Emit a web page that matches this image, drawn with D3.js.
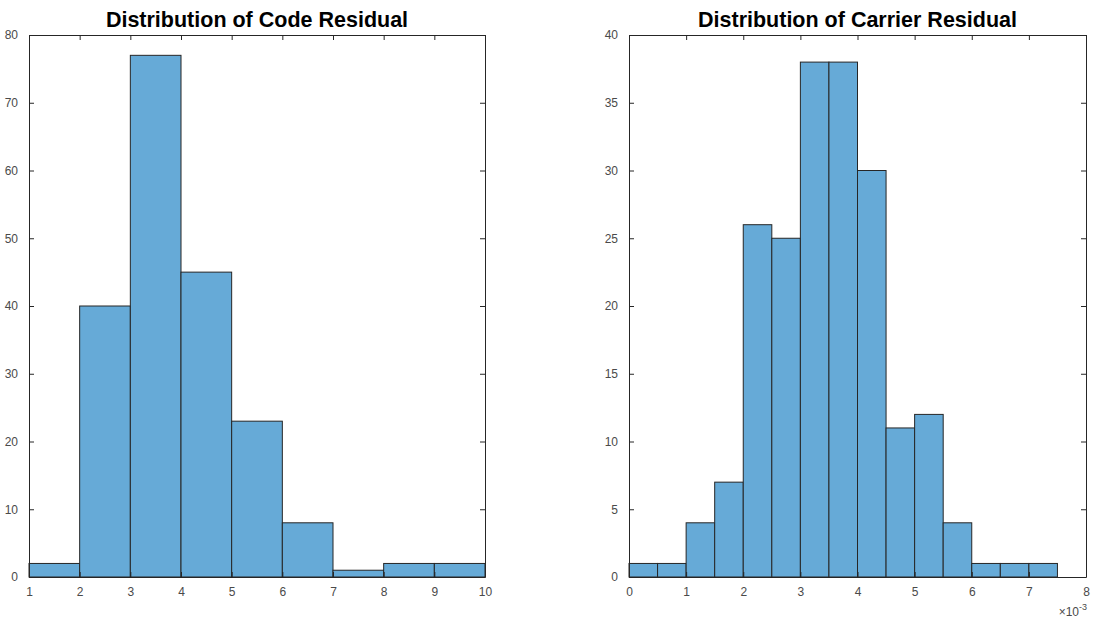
<!DOCTYPE html>
<html>
<head>
<meta charset="utf-8">
<script src="https://cdn.jsdelivr.net/npm/d3@7"></script>
<style>
  body { margin: 0; background: #fff; }
  svg { display: block; font-family: "Liberation Sans", Arial, sans-serif; }
  .tick text { fill: #4a4a4a; font-size: 12px; }
  .title { font-weight: bold; font-size: 21.5px; fill: #000; }
</style>
</head>
<body>
<svg width="1094" height="620"></svg>
<script>
// Code residual histogram
const codeEdges = [1, 2, 3, 4, 5, 6, 7, 8, 9, 10];
const codeCounts = [2, 40, 77, 45, 23, 8, 1, 2, 2];
const codeXTicks = [1, 2, 3, 4, 5, 6, 7, 8, 9, 10];
const codeYTicks = [0, 10, 20, 30, 40, 50, 60, 70, 80];

// Carrier residual histogram (x in units of 1e-3)
const carrierEdges = [0, 0.5, 1, 1.5, 2, 2.5, 3, 3.5, 4, 4.5, 5, 5.5, 6, 6.5, 7, 7.5];
const carrierCounts = [1, 1, 4, 7, 26, 25, 38, 38, 30, 11, 12, 4, 1, 1, 1];
const carrierXTicks = [0, 1, 2, 3, 4, 5, 6, 7, 8];
const carrierYTicks = [0, 5, 10, 15, 20, 25, 30, 35, 40];

const svg = d3.select("svg");
const axisColor = "#262626";
const tickLen = 5;

function drawHist(opts) {
  const { left, right, top, bottom, edges, counts, xDomain, yDomain, xTicks, yTicks, title } = opts;
  const x = d3.scaleLinear().domain(xDomain).range([left, right]);
  const y = d3.scaleLinear().domain(yDomain).range([bottom, top]);
  const g = svg.append("g");

  // bars
  g.append("g")
    .selectAll("rect")
    .data(counts)
    .enter()
    .append("rect")
    .attr("x", (d, i) => x(edges[i]))
    .attr("y", (d) => y(d))
    .attr("width", (d, i) => x(edges[i + 1]) - x(edges[i]))
    .attr("height", (d) => y(0) - y(d))
    .attr("fill", "rgb(102,170,215)")
    .attr("stroke", axisColor)
    .attr("stroke-width", 1);

  // axes with inward ticks on all sides (box on)
  const bottomAxis = d3.axisBottom(x).tickValues(xTicks).tickSizeInner(-tickLen).tickSizeOuter(0).tickPadding(10).tickFormat(d3.format("d"));
  const topAxis = d3.axisTop(x).tickValues(xTicks).tickSizeInner(-tickLen).tickSizeOuter(0).tickFormat("");
  const leftAxis = d3.axisLeft(y).tickValues(yTicks).tickSizeInner(-tickLen).tickSizeOuter(0).tickPadding(11).tickFormat(d3.format("d"));
  const rightAxis = d3.axisRight(y).tickValues(yTicks).tickSizeInner(-tickLen).tickSizeOuter(0).tickFormat("");

  [
    [bottomAxis, `translate(0,${bottom})`],
    [topAxis, `translate(0,${top})`],
    [leftAxis, `translate(${left},0)`],
    [rightAxis, `translate(${right},0)`],
  ].forEach(([ax, tr]) => {
    const a = g.append("g").attr("transform", tr).call(ax);
    a.selectAll("path, line").attr("stroke", axisColor);
    a.selectAll("text").style("font-family", "Liberation Sans, Arial, sans-serif");
  });

  g.append("text")
    .attr("class", "title")
    .attr("x", (left + right) / 2)
    .attr("y", 27)
    .attr("text-anchor", "middle")
    .text(title);

  return { x, y, g };
}

drawHist({
  left: 29, right: 485, top: 35, bottom: 577,
  edges: codeEdges, counts: codeCounts,
  xDomain: [1, 10], yDomain: [0, 80],
  xTicks: codeXTicks, yTicks: codeYTicks,
  title: "Distribution of Code Residual",
});

const carrier = drawHist({
  left: 629, right: 1086, top: 35, bottom: 577,
  edges: carrierEdges, counts: carrierCounts,
  xDomain: [0, 8], yDomain: [0, 40],
  xTicks: carrierXTicks, yTicks: carrierYTicks,
  title: "Distribution of Carrier Residual",
});

// exponent label
const expLabel = carrier.g.append("text")
  .attr("x", 1087)
  .attr("y", 616)
  .attr("text-anchor", "end")
  .attr("fill", "#4a4a4a")
  .style("font-size", "12px");
expLabel.append("tspan").text("\u00d710");
expLabel.append("tspan").attr("dy", -6).style("font-size", "9px").text("-3");
</script>
</body>
</html>
